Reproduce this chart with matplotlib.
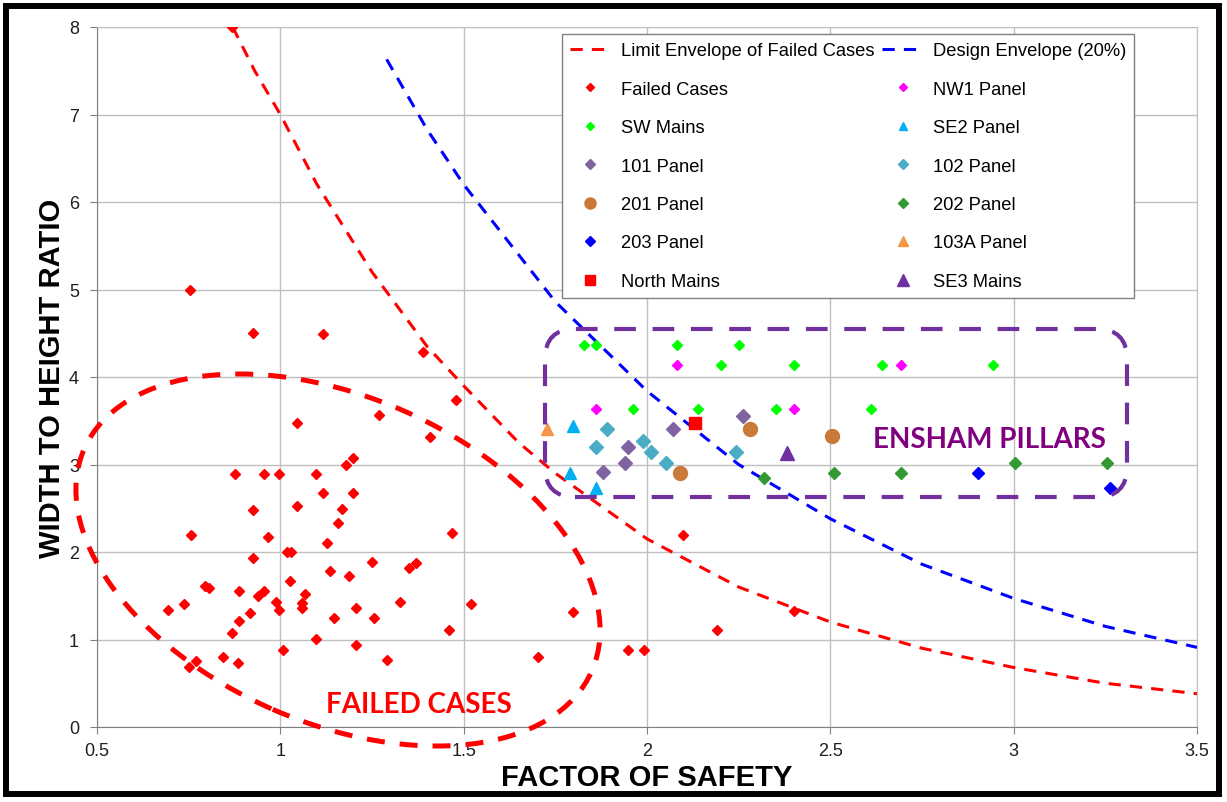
import matplotlib
matplotlib.use("Agg")
import matplotlib.pyplot as plt
from matplotlib.patches import Ellipse, FancyBboxPatch, Rectangle

# ---- data ----
failed_fos = [0.868, 0.754, 0.926, 1.117, 1.046, 1.268, 1.199, 1.179, 0.876, 0.955,
              0.997, 1.097, 1.117, 1.199, 0.926, 1.046, 1.169, 1.156, 0.756, 0.967,
              1.128, 1.017, 1.028, 0.926, 1.249, 1.352, 1.370, 1.135, 1.187, 1.026,
              0.795, 0.806, 0.887, 1.067, 0.956, 0.938, 0.988, 0.996, 1.058, 1.058,
              0.737, 0.695, 1.206, 1.326, 0.917, 1.147, 1.256, 0.887, 0.867, 1.097,
              1.206, 1.008, 1.290, 0.844, 0.884, 0.750, 0.770, 1.388, 1.479, 1.408,
              1.467, 1.519, 1.799, 1.459, 2.190, 2.099, 1.949, 1.992, 1.704, 2.400]
failed_ratio = [8.00, 5.00, 4.50, 4.49, 3.48, 3.57, 3.08, 3.00, 2.89, 2.89,
                2.89, 2.89, 2.68, 2.67, 2.48, 2.53, 2.49, 2.33, 2.19, 2.17,
                2.10, 2.00, 2.00, 1.93, 1.89, 1.82, 1.88, 1.78, 1.73, 1.67,
                1.61, 1.59, 1.56, 1.52, 1.55, 1.50, 1.43, 1.34, 1.42, 1.36,
                1.41, 1.34, 1.36, 1.43, 1.30, 1.25, 1.25, 1.21, 1.07, 1.01,
                0.94, 0.88, 0.77, 0.80, 0.73, 0.69, 0.75, 4.29, 3.74, 3.32,
                2.22, 1.41, 1.31, 1.11, 1.11, 2.19, 0.88, 0.88, 0.80, 1.33]

sw_fos = [1.828, 1.861, 2.081, 2.251, 2.201, 2.402, 2.642, 2.943, 1.961, 2.140, 2.352, 2.611]
sw_ratio = [4.37, 4.37, 4.37, 4.37, 4.14, 4.14, 4.14, 4.14, 3.63, 3.63, 3.63, 3.63]

nw1_fos = [2.081, 2.692, 1.861, 2.402]
nw1_ratio = [4.14, 4.14, 3.63, 3.63]

p101_fos = [2.070, 2.261, 1.949, 1.940, 1.879]
p101_ratio = [3.41, 3.55, 3.20, 3.02, 2.91]

p102_fos = [1.890, 1.860, 1.990, 2.012, 2.051, 2.243]
p102_ratio = [3.41, 3.20, 3.27, 3.14, 3.02, 3.14]

p201_fos = [2.090, 2.281, 2.504]
p201_ratio = [2.90, 3.41, 3.33]

p202_fos = [2.320, 2.510, 2.692, 3.003, 3.254]
p202_ratio = [2.85, 2.90, 2.90, 3.02, 3.02]

p203_fos = [2.903, 3.264]
p203_ratio = [2.90, 2.73]

se2_fos = [1.799, 1.790, 1.861]
se2_ratio = [3.44, 2.90, 2.73]

p103a_fos = [1.726]
p103a_ratio = [3.41]

north_fos = [2.132]
north_ratio = [3.47]

se3_fos = [2.381]
se3_ratio = [3.13]

limit_fos = [0.87, 0.93, 1.0, 1.1, 1.25, 1.4, 1.5, 1.65, 1.75, 2.0, 2.25, 2.5, 2.75, 3.0, 3.25, 3.5]
limit_ratio = [8.0, 7.5, 7.0, 6.2, 5.2, 4.35, 3.9, 3.25, 2.9, 2.15, 1.6, 1.2, 0.9, 0.68, 0.5, 0.38]

design_fos = [1.29, 1.4, 1.5, 1.75, 2.0, 2.25, 2.5, 2.75, 3.0, 3.25, 3.5]
design_ratio = [7.63, 6.83, 6.2, 4.86, 3.84, 3.0, 2.38, 1.86, 1.47, 1.15, 0.91]

x_ticks = [0.5, 1, 1.5, 2, 2.5, 3, 3.5]
x_tick_labels = ["0.5", "1", "1.5", "2", "2.5", "3", "3.5"]
y_ticks = [0, 1, 2, 3, 4, 5, 6, 7, 8]

plt.rcParams["font.family"] = ["Liberation Sans", "DejaVu Sans"]

fig = plt.figure(figsize=(12.27, 8.03), dpi=100)
ax = fig.add_axes([97 / 1227, 75 / 803, 1100 / 1227, 700 / 803])

ax.set_xlim(0.5, 3.5)
ax.set_ylim(0, 8)
ax.set_xticks(x_ticks)
ax.set_xticklabels(x_tick_labels)
ax.set_yticks(y_ticks)
ax.grid(True, color="#BFBFBF", lw=1)
ax.set_axisbelow(True)
ax.tick_params(direction="out", length=5, color="#808080", labelsize=13,
               labelcolor="#202020")
ax.tick_params(axis="y", pad=8)
ax.tick_params(axis="x", pad=6)
for side in ["left", "bottom"]:
    ax.spines[side].set_color("#808080")
for side in ["top", "right"]:
    ax.spines[side].set_color("#BFBFBF")

# envelopes
lim_line, = ax.plot(limit_fos, limit_ratio, color="#FF0000", lw=2.2, dashes=(4, 3),
                    label="Limit Envelope of Failed Cases")
des_line, = ax.plot(design_fos, design_ratio, color="#0000FF", lw=2.2, dashes=(4, 3),
                    label="Design Envelope (20%)")

series = [
    (failed_fos, failed_ratio, "Failed Cases", "D", "#FF0000", 5),
    (sw_fos, sw_ratio, "SW Mains", "D", "#00FF00", 5),
    (p101_fos, p101_ratio, "101 Panel", "D", "#8064A2", 7),
    (p201_fos, p201_ratio, "201 Panel", "o", "#C97A38", 10),
    (p203_fos, p203_ratio, "203 Panel", "D", "#0000FF", 6),
    (north_fos, north_ratio, "North Mains", "s", "#FF0000", 9),
    (nw1_fos, nw1_ratio, "NW1 Panel", "D", "#FF00FF", 5),
    (se2_fos, se2_ratio, "SE2 Panel", "^", "#00B0F0", 8),
    (p102_fos, p102_ratio, "102 Panel", "D", "#4BACC6", 7),
    (p202_fos, p202_ratio, "202 Panel", "D", "#339933", 6.5),
    (p103a_fos, p103a_ratio, "103A Panel", "^", "#F79646", 9),
    (se3_fos, se3_ratio, "SE3 Mains", "^", "#7030A0", 10),
]

handles = {}
for xs, ys, name, mk, col, ms in series:
    h, = ax.plot(xs, ys, ls="none", marker=mk, color=col, ms=ms, mec=col, label=name, zorder=3)
    handles[name] = h

# legend: column-major order
order_left = ["Failed Cases", "SW Mains", "101 Panel", "201 Panel", "203 Panel", "North Mains"]
order_right = ["NW1 Panel", "SE2 Panel", "102 Panel", "202 Panel", "103A Panel", "SE3 Mains"]
leg_handles = [lim_line] + [handles[n] for n in order_left] + [des_line] + [handles[n] for n in order_right]
leg_labels = [h.get_label() for h in leg_handles]
leg = ax.legend(leg_handles, leg_labels, ncol=2, loc="upper left",
                bbox_to_anchor=(0.4227, 0.99), fontsize=13.2, labelspacing=1.17,
                handlelength=2.2, handletextpad=0.55, columnspacing=0.45,
                markerscale=0.8, fancybox=False, framealpha=1,
                edgecolor="#808080", borderpad=0.45, borderaxespad=0)
leg.get_frame().set_linewidth(1)

ax.set_xlabel("FACTOR OF SAFETY", fontsize=21, fontweight="bold", labelpad=3)
ax.set_ylabel("WIDTH TO HEIGHT RATIO", fontsize=21, fontweight="bold", labelpad=2)

# annotations (in figure inches)
ell = Ellipse((3.38, 2.42), 5.54, 3.26, angle=-23.6, transform=fig.dpi_scale_trans,
              fill=False, edgecolor="#FF0000", lw=3.6, linestyle=(0, (3.6, 3)), zorder=5)
fig.add_artist(ell)

box = FancyBboxPatch((5.45, 3.05), 5.82, 1.68, boxstyle="round,pad=0,rounding_size=0.3",
                     transform=fig.dpi_scale_trans, fill=False, edgecolor="#7030A0",
                     lw=3, linestyle=(0, (5.2, 4)), zorder=5)
fig.add_artist(box)

ax.text(1.378, 0.26, "FAILED CASES", color="#FF0000", fontsize=20, fontweight="bold",
        family=["Lato", "DejaVu Sans"], ha="center", va="center")
ax.text(2.935, 3.29, "ENSHAM PILLARS", color="#800080", fontsize=20, fontweight="bold",
        family=["Lato", "DejaVu Sans"], ha="center", va="center")

border = Rectangle((0.06, 0.08), 12.13, 7.88, transform=fig.dpi_scale_trans,
                   fill=False, edgecolor="black", lw=4.3)
fig.add_artist(border)

fig.savefig("out.png", dpi=100)
